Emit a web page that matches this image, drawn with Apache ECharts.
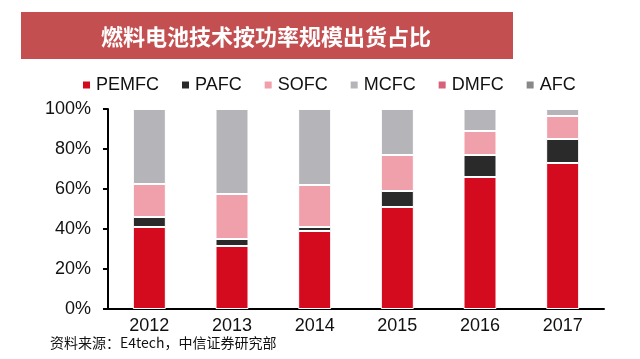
<!DOCTYPE html>
<html><head><meta charset="utf-8">
<script src="https://cdn.jsdelivr.net/npm/echarts@6/dist/echarts.min.js"></script>
<style>html,body{margin:0;padding:0;background:#fff}#c{width:640px;height:359px}</style>
</head><body><div id="c"></div>
<script>
const categories = ['2012','2013','2014','2015','2016','2017'];
const seriesNames = ['PEMFC','PAFC','SOFC','MCFC','DMFC','AFC'];
const PEMFC = [41, 31.5, 39, 51, 66, 73];
const PAFC = [5, 3.5, 2, 8, 11, 12];
const SOFC = [16.5, 22.5, 21, 18, 12, 11.5];
const MCFC = [37.5, 42.5, 38, 23, 11, 3.5];
const DMFC = [0, 0, 0, 0, 0, 0];
const AFC = [0, 0, 0, 0, 0, 0];
const yTicks = [0, 20, 40, 60, 80, 100];
const titleText = '燃料电池技术按功率规模出货占比';
const sourceText = '资料来源：E4tech，中信证券研究部';

const colors = ['#d40a1e', '#2a2a2a', '#efa0ab', '#b5b4b8', '#d8607a', '#888888'];
const values = [PEMFC, PAFC, SOFC, MCFC, DMFC, AFC];
const font = '"Liberation Sans", Arial, sans-serif';
const cjk = '"Noto Sans CJK SC", sans-serif';

const chart = echarts.init(document.getElementById('c'), null, {renderer: 'canvas'});
chart.setOption({
  animation: false,
  backgroundColor: '#fff',
  color: colors,
  graphic: [
    {type: 'rect', shape: {x: 21, y: 12, width: 492, height: 47}, style: {fill: '#c44f50'}},
    {type: 'text', x: 266, y: 37, style: {text: titleText, fill: '#fff', fontSize: 22, fontWeight: 'bold', fontFamily: cjk, align: 'center', verticalAlign: 'middle'}},
    {type: 'text', x: 50, y: 343, style: {text: sourceText, fill: '#111', fontSize: 14, fontFamily: cjk, verticalAlign: 'middle'}}
  ],
  legend: {
    left: 76, top: 71, icon: 'rect', itemWidth: 9, itemHeight: 9, itemGap: 21,
    data: seriesNames,
    textStyle: {fontFamily: font, fontSize: 18, color: '#111'}
  },
  grid: {left: 108, right: 36, top: 109, bottom: 50},
  xAxis: {
    type: 'category', data: categories,
    axisLine: {lineStyle: {color: '#000', width: 2}},
    axisTick: {show: false},
    axisLabel: {fontFamily: font, fontSize: 18, color: '#111', margin: 8}
  },
  yAxis: {
    type: 'value', min: yTicks[0], max: yTicks[yTicks.length - 1], interval: 20,
    axisLine: {show: true, lineStyle: {color: '#000', width: 2}},
    axisTick: {show: true, length: 5, lineStyle: {color: '#000', width: 2}},
    splitLine: {show: false},
    axisLabel: {fontFamily: font, fontSize: 18, color: '#111', margin: 17, formatter: v => v + '%'}
  },
  series: seriesNames.map((n, i) => ({
    name: n, type: 'bar', stack: 'total', data: values[i], barWidth: 33,
    itemStyle: {color: colors[i], borderColor: '#fff', borderWidth: 1}
  }))
});
</script></body></html>
